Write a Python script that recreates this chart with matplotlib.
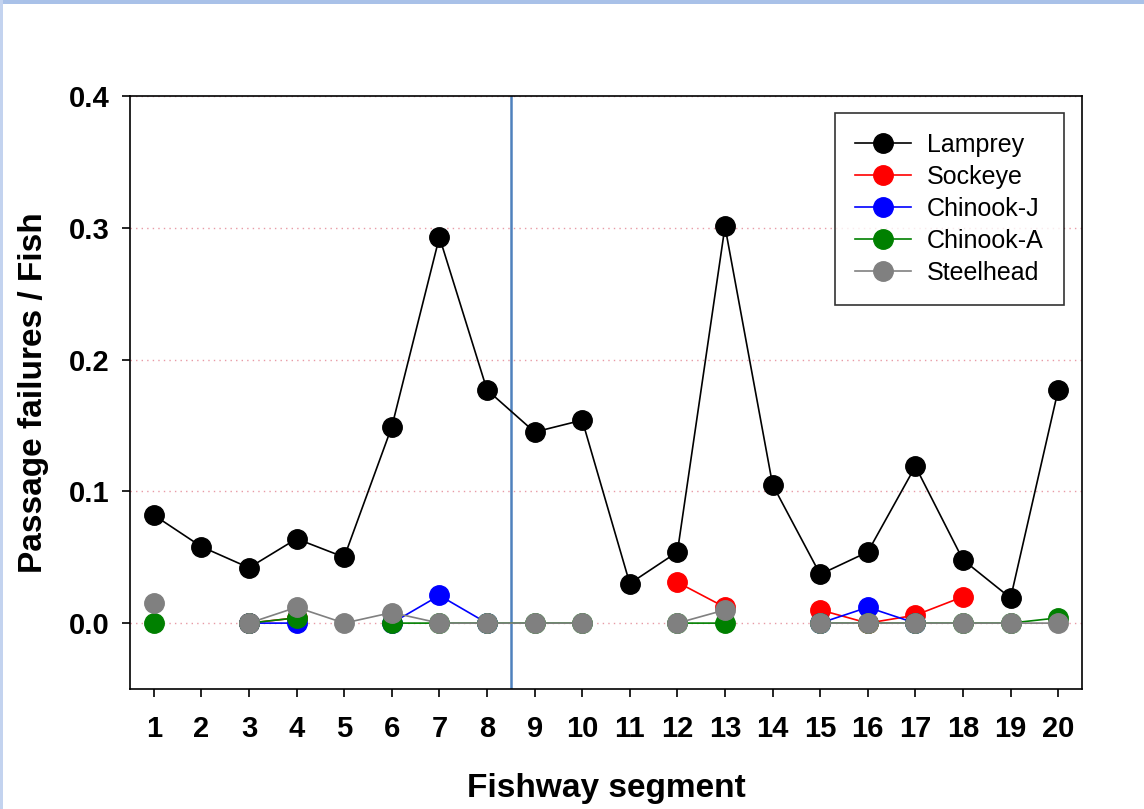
import matplotlib
matplotlib.use("Agg")
import matplotlib.pyplot as plt
import numpy as np
from matplotlib.patches import Rectangle

plt.rcParams["font.family"] = ["Liberation Sans", "DejaVu Sans"]

nan = np.nan
segments = np.arange(1, 21)

lamprey = [0.082, 0.058, 0.042, 0.064, 0.050, 0.149, 0.293, 0.177, 0.145, 0.154,
           0.030, 0.054, 0.301, 0.105, 0.037, 0.054, 0.119, 0.048, 0.019, 0.177]
sockeye = [nan, nan, 0.0, 0.004, nan, nan, nan, nan, nan, nan,
           nan, 0.031, 0.012, nan, 0.010, 0.0, 0.006, 0.020, nan, nan]
chinook_j = [nan, nan, 0.0, 0.0, nan, 0.0, 0.021, 0.0, nan, nan,
             nan, nan, nan, nan, 0.0, 0.012, 0.0, nan, nan, nan]
chinook_a = [0.0, nan, 0.0, 0.004, nan, 0.0, 0.0, 0.0, 0.0, 0.0,
             nan, 0.0, 0.0, nan, 0.0, 0.0, 0.0, 0.0, 0.0, 0.004]
steelhead = [0.015, nan, 0.0, 0.012, 0.0, 0.008, 0.0, 0.0, 0.0, 0.0,
             nan, 0.0, 0.010, nan, 0.0, 0.0, 0.0, 0.0, 0.0, 0.0]

series = [("Lamprey", lamprey, "black"),
          ("Sockeye", sockeye, "red"),
          ("Chinook-J", chinook_j, "blue"),
          ("Chinook-A", chinook_a, "green"),
          ("Steelhead", steelhead, "gray")]

yticks = [0.0, 0.1, 0.2, 0.3, 0.4]

fig = plt.figure(figsize=(11.44, 8.09), dpi=100)
ax = fig.add_axes([130 / 1144, 1 - 689 / 809, 952 / 1144, 593 / 809])

# light blue frame at the top and left edge of the image
fig.patches.append(Rectangle((0, 1 - 4 / 809), 1, 4 / 809, transform=fig.transFigure,
                             facecolor="#a9c1e8", edgecolor="none"))
fig.patches.append(Rectangle((0, 0), 2.5 / 1144, 1, transform=fig.transFigure,
                             facecolor="#c3d3ef", edgecolor="none"))

for y in yticks:
    ax.axhline(y, color="#e89aa5", linestyle=(0, (1, 3)), linewidth=1.0, zorder=1)

ax.axvline(8.5, color="#4f81bd", linewidth=1.8, zorder=2)

for name, vals, col in series:
    ax.plot(segments, vals, color=col, linewidth=1.2, marker="o", markersize=14,
            markeredgecolor=col, label=name, zorder=3)

ax.set_xlim(0.5, 20.5)
ax.set_ylim(-0.05, 0.4)
ax.set_xticks(segments)
ax.set_yticks(yticks)
ax.set_yticklabels(["%.1f" % v for v in yticks])
ax.tick_params(direction="out", length=6, width=1.2, labelsize=21)
ax.tick_params(axis="x", pad=13)
ax.tick_params(axis="y", pad=9)
for lab in ax.get_xticklabels() + ax.get_yticklabels():
    lab.set_fontweight("bold")
for sp in ax.spines.values():
    sp.set_linewidth(1.2)

ax.set_xlabel("Fishway segment", fontsize=24, fontweight="bold", labelpad=21)
ax.set_ylabel("Passage failures / Fish", fontsize=24, fontweight="bold", labelpad=14)

leg = ax.legend(loc="upper right", bbox_to_anchor=(1 - 18 / 952, 1 - 17 / 593),
                borderaxespad=0, fontsize=18, frameon=True, fancybox=False,
                handlelength=2.25, labelspacing=0.32, borderpad=0.8, handletextpad=0.65)
leg.get_frame().set_edgecolor("black")
leg.get_frame().set_linewidth(1.2)

fig.savefig("out.png", dpi=100)
